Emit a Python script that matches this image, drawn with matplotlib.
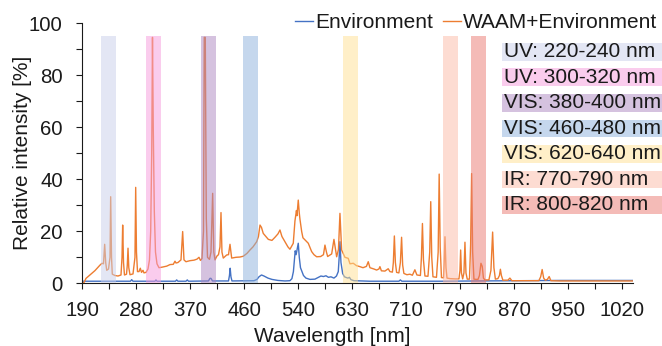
import numpy as np
import matplotlib
matplotlib.use("Agg")
import matplotlib.pyplot as plt
from matplotlib.lines import Line2D
from matplotlib.patches import Rectangle

plt.rcParams['font.family'] = ['Liberation Sans', 'DejaVu Sans']

# ---------------- data ----------------
tick_wavelengths = [190, 280, 370, 460, 540, 630, 710, 790, 870, 950, 1020]
tick_labels = [str(v) for v in tick_wavelengths]

env_spectrum = [
    (190, 0.8), (252.8, 0.8), (270.3, 0.8), (272.3, 1.4), (274.5, 0.8), (311.2, 0.8), (312.8, 1.3),
    (314.5, 0.8), (345.3, 0.8), (347.3, 1.3), (349.5, 0.8), (362.8, 0.8), (365, 1.3), (367, 0.8),
    (400.3, 0.9), (402.8, 1.9), (404.5, 1.9), (407, 0.9), (433.7, 0.9), (435.3, 3), (436.5, 5.8),
    (437.8, 2.5), (439.5, 0.9), (474.4, 1.0), (478.8, 1.5), (481.8, 2.5), (485.5, 3.2), (489.2, 2.8),
    (495.1, 2.0), (501, 1.5), (509.9, 1.1), (520.3, 0.9), (527.7, 1.0), (530.6, 1.8), (532.8, 4.5),
    (534.3, 9), (535.5, 12.5), (536.8, 11), (538.3, 13), (540, 15.4), (541.7, 10), (543.7, 6),
    (546.2, 4.5), (548.7, 3.0), (552.8, 2.0), (559.5, 1.5), (567.8, 1.6), (572.8, 2.2), (577.8, 2.8),
    (582, 2.6), (586.2, 2.9), (590.3, 2.3), (594.5, 2.5), (599.5, 2.0), (603.7, 2.8), (606.7, 4.5),
    (608.2, 10), (609.5, 16), (611.2, 8), (614, 3.8), (617, 2.5), (620.3, 2.2), (622.8, 2.0),
    (625.3, 2.3), (627.8, 1.4), (632.5, 1.0), (656.2, 0.8), (699.1, 0.8), (701.3, 1.3), (703.5, 0.8),
    (759.3, 0.8), (818.5, 0.9), (878.4, 1.0), (937.7, 1.1), (991.2, 1.1), (1034, 1.1),
]

waam_spectrum = [
    (190, 0), (192.8, 0.3), (196.2, 1.9), (202.8, 3.2), (211.2, 4.9), (219.5, 7.0), (222.8, 7.7),
    (225.3, 7.5), (227.3, 15), (229, 8), (230.7, 5), (233.7, 5.5), (236.2, 10), (237.3, 33.3),
    (238.7, 10), (240, 3.5), (244.5, 3), (249.5, 2.8), (254.5, 3.2), (256.2, 10), (257.3, 22.4),
    (258.7, 8), (260.3, 3.2), (263.7, 3.5), (265, 7), (266.2, 13.5), (267.5, 6), (269.5, 3.3),
    (274.5, 3.6), (277.8, 10), (279, 36.9), (280.3, 12), (282, 4.5), (284.5, 4.5), (286.7, 5.8),
    (288.7, 4.2), (291.2, 5.0), (292.8, 4.0), (296.2, 4.2), (299.5, 5.5), (302, 9), (304, 20),
    (305.7, 50), (307, 94.6), (308.3, 60), (310, 28), (312, 12), (314.5, 7.5), (317.8, 6),
    (322.8, 6.2), (330.7, 6.6), (336.2, 7.2), (341.7, 7.3), (344.5, 8.5), (346.2, 7.8), (349.5, 8.0),
    (354.5, 9), (357.3, 19.9), (359.5, 9), (362.8, 8.3), (369.5, 8.7), (376.2, 8.9), (381.2, 9.3),
    (384.5, 10), (387, 8.8), (389.5, 9.5), (392, 20), (393.3, 94.6), (395, 94.6), (396.7, 25),
    (398.7, 10), (402, 9.2), (404.5, 12), (407.3, 34.6), (409.2, 12), (411.2, 9), (414.5, 10.5),
    (417, 11), (419.5, 14), (421.2, 27.2), (422.8, 12), (425, 9.7), (430.7, 10.9), (433.7, 11),
    (436.2, 15), (439, 9.7), (446.2, 10), (452.8, 10.1), (458.3, 10.4), (464, 11.5), (468.4, 12.8),
    (472.9, 14), (478.4, 16), (481, 18), (483.3, 22.4), (485.5, 21.5), (488.1, 19.2), (495.6, 16.9),
    (501, 16.5), (505.5, 17.7), (509.9, 19), (512.9, 20.5), (515.8, 18), (520.3, 16), (524.7, 14),
    (527.7, 13.1), (530.6, 14.5), (532.6, 15.4), (535.1, 24), (537.3, 28), (538.1, 26), (540, 32),
    (541.7, 27), (542.8, 24.7), (545.7, 19.9), (547.8, 17.5), (551.2, 16.7), (556.7, 15.4),
    (562.3, 12.2), (566.2, 11), (570.7, 10.2), (577.3, 10.3), (582, 11), (584.5, 14.7), (587, 12),
    (589, 10.3), (595.7, 11.3), (599.5, 16.9), (604, 10.2), (607, 13), (609.5, 26.9), (612.3, 12.8),
    (617.8, 10), (623.3, 9.6), (626.2, 7.5), (631.5, 7.7), (636.2, 6.8), (641.4, 6.4), (645.9, 6.0),
    (651, 6.5), (653.7, 8.3), (656.2, 6), (662.1, 5.5), (666.1, 5.1), (669.5, 5.5), (671, 6.4),
    (673.2, 4.8), (678.4, 4.7), (683.3, 5.6), (685.8, 4.5), (689.5, 4.3), (690.9, 8), (692.4, 18.2),
    (693.9, 8), (695.7, 4.2), (699.1, 4.0), (701.3, 8), (703.1, 17.7), (704.7, 7), (706.5, 3.8),
    (711, 3.3), (715.4, 3.5), (719.1, 3.1), (722.8, 5.2), (725.8, 3.2), (731, 3.0), (732.5, 10),
    (734, 23), (735.5, 9), (737.7, 2.8), (742.2, 2.7), (744.8, 12), (746.3, 31.4), (747.8, 10),
    (749.6, 2.5), (754.8, 2.3), (757.3, 12), (758.8, 42), (760.3, 14), (762.2, 2.2), (765.2, 2.1),
    (766.2, 8), (767.4, 17.9), (768.9, 6), (770.4, 2), (774.8, 1.8), (782.2, 1.7), (788.1, 1.7),
    (789.6, 5), (790.6, 12.8), (791.8, 4), (793.6, 1.7), (795.5, 4), (797, 15.8), (798.5, 4),
    (800.4, 1.6), (803.7, 1.6), (805.4, 15), (806.9, 42.2), (808.4, 12), (810.3, 1.6), (814, 1.5),
    (816.3, 1.5), (818.5, 3.0), (820.7, 7.7), (822.6, 6.5), (824.4, 2.0), (826.6, 1.3), (832.5, 1.3),
    (835.5, 5), (838, 19.7), (839.9, 6), (842.1, 1.6), (845.8, 1.8), (848.1, 3), (849.5, 5.4),
    (851, 3), (853.2, 1.2), (860.6, 1.2), (863.6, 2.0), (866.5, 1.0), (878.4, 1.0), (893.2, 1.0),
    (906.5, 1.0), (909.2, 2.5), (911.4, 5.3), (913.6, 2), (916.1, 1.2), (919.1, 1.5), (921.8, 2.6),
    (924.3, 1.0), (937.7, 0.9), (958.7, 0.9), (984.6, 0.9), (1010.5, 0.9), (1034, 0.9),
]

band_labels = ["UV: 220-240 nm", "UV: 300-320 nm", "VIS: 380-400 nm", "VIS: 460-480 nm",
               "VIS: 620-640 nm", "IR: 770-790 nm", "IR: 800-820 nm"]
band_lo = [222, 297, 388, 458, 615, 765, 806]
band_hi = [246, 322, 413, 481, 639, 787, 828]
band_top = 95.3
band_colors = ["#C9CFEB", "#F79BDD", "#AD87C1", "#8DB1DD", "#FFE193", "#FDBBA7", "#EB7971"]

series_names = ["Environment", "WAAM+Environment"]
series_colors = ["#4472C4", "#ED7D31"]

# ---------------- figure ----------------
W, H = 662, 346
fig = plt.figure(figsize=(W / 100, H / 100), dpi=100)
ax_l, ax_r, ax_t, ax_b = 82.3, 633.0, 23.3, 283.3
ax = fig.add_axes([ax_l / W, 1 - ax_b / H, (ax_r - ax_l) / W, (ax_b - ax_t) / H])

# spectrometer-style axis: tick labels evenly spaced
axis_wl = np.array([100] + tick_wavelengths + [1090], float)
axis_pos = np.arange(-1, len(tick_wavelengths) + 1, dtype=float)

def fwd(x):
    return np.interp(x, axis_wl, axis_pos)

def inv(p):
    return np.interp(p, axis_pos, axis_wl)

ax.set_xscale('function', functions=(fwd, inv))

for spec, name, col in zip([env_spectrum, waam_spectrum], series_names, series_colors):
    arr = np.array(spec, float)
    ax.plot(arr[:, 0], arr[:, 1], color=col, lw=1.0, zorder=2, label=name)

alpha = 0.5
for lo, hi, c in zip(band_lo, band_hi, band_colors):
    ax.axvspan(lo, hi, ymin=0, ymax=band_top / 100, color=c, alpha=alpha, lw=0, zorder=3)

ax.set_xlim(tick_wavelengths[0], float(inv(10.2)))
ax.set_ylim(0, 100)
ax.set_xticks(tick_wavelengths)
ax.set_xticklabels(tick_labels)
ax.set_xticks(inv(np.arange(0.5, 10.5, 1.0)), minor=True)
ax.set_yticks(np.arange(0, 101, 20))
ax.set_yticks(np.arange(10, 100, 20), minor=True)

for s in ['top', 'right']:
    ax.spines[s].set_visible(False)
for s in ['left', 'bottom']:
    ax.spines[s].set_linewidth(0.8)
    ax.spines[s].set_color('#1a1a1a')

ax.tick_params(axis='both', which='both', direction='out', length=4.6, width=0.8,
               color='#1a1a1a', labelsize=14.7, labelcolor='#1a1a1a')
ax.tick_params(axis='y', which='both', pad=9.5)
ax.tick_params(axis='x', which='both', pad=8.5)

ax.set_ylabel('Relative intensity [%]', fontsize=15, color='#1a1a1a')
ax.yaxis.set_label_coords((32 - ax_l) / (ax_r - ax_l), 0.5)
ax.set_xlabel('Wavelength [nm]', fontsize=15, color='#1a1a1a')
ax.xaxis.set_label_coords(0.454, (ax_b - 327.5) / (ax_b - ax_t))

handles = [Line2D([], [], color=c, lw=1.0) for c in series_colors]
ax.legend(handles, series_names, loc='center left',
          bbox_to_anchor=(295 / W, 1 - 22.5 / H), bbox_transform=fig.transFigure,
          ncol=2, frameon=False, handlelength=0.85, handletextpad=0.1,
          columnspacing=0.5, borderpad=0, borderaxespad=0, fontsize=15,
          labelcolor='#1a1a1a')

# band legend boxes
row_y0, row_step, row_h = 51.7, 25.55, 17.7
box_x = 501.7
for i, (lab, c) in enumerate(zip(band_labels, band_colors)):
    yc = row_y0 + i * row_step
    fig.patches.append(Rectangle((box_x / W, 1 - (yc + row_h / 2) / H), (W - box_x + 5) / W,
                                 row_h / H, transform=fig.transFigure, facecolor=c,
                                 alpha=alpha, lw=0, zorder=1))
    fig.text(504.5 / W, 1 - yc / H, lab, fontsize=15, va='center', ha='left',
             color='#1a1a1a', zorder=2)

fig.savefig('out.png', dpi=100)
